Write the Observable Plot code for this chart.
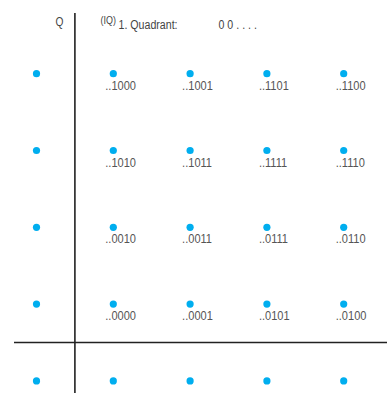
<!DOCTYPE html>
<html>
<head>
<meta charset="utf-8">
<script src="https://cdn.jsdelivr.net/npm/d3@7"></script>
<script src="https://cdn.jsdelivr.net/npm/@observablehq/plot@0.6"></script>
<style>
  html, body { margin: 0; padding: 0; background: #fff; }
  svg { font-family: "Liberation Sans", Arial, sans-serif; }
</style>
</head>
<body>
<div id="chart"></div>
<script>
// Constellation grid levels (I and Q)
const iLevels = [-1, 1, 3, 5, 7];
const qLevels = [-1, 1, 3, 5, 7];

// Bit labels of the first quadrant (rows top to bottom: Q = 7, 5, 3, 1; columns I = 1, 3, 5, 7)
const labelRowQ = [7, 5, 3, 1];
const labelColI = [1, 3, 5, 7];
const bitLabels = [
  ["..1000", "..1001", "..1101", "..1100"],
  ["..1010", "..1011", "..1111", "..1110"],
  ["..0010", "..0011", "..0111", "..0110"],
  ["..0000", "..0001", "..0101", "..0100"]
];

// Header texts
const axisQLabel = "Q";
const headIQ = "(IQ)";
const headQuadrant = "1. Quadrant:";
const headBits = "0 0 . . . .";

const points = [];
for (const q of qLevels) for (const i of iLevels) points.push({i, q});

const labels = [];
labelRowQ.forEach((q, r) => labelColI.forEach((i, c) => labels.push({i, q, label: bitLabels[r][c]})));

const W = 387, H = 393;
const unit = 38.4, x0px = 74.4, y0px = 342;
const xDomain = [-x0px / unit, (W - x0px) / unit];
const yDomain = [-(H - y0px) / unit, y0px / unit];

const chart = Plot.plot({
  width: W,
  height: H,
  margin: 0,
  x: {domain: xDomain, axis: null},
  y: {domain: yDomain, axis: null},
  marks: [
    Plot.ruleX([0], {y1: (y0px - 13) / unit, y2: yDomain[0], stroke: "#222", strokeWidth: 1.6}),
    Plot.ruleY([0], {x1: (14 - x0px) / unit, x2: xDomain[1], stroke: "#222", strokeWidth: 1.6}),
    Plot.dot(points, {x: "i", y: "q", r: 3.6, fill: "#00aeef", stroke: "none"}),
    Plot.text(labels, {x: "i", y: "q", text: "label", textAnchor: "start", dx: -8, dy: 12, fontSize: 13, fill: "#555"}),
    Plot.text([axisQLabel], {frameAnchor: "top-left", dx: 59, dy: 17, text: d => d, textAnchor: "middle", fontSize: 12, fill: "#444"}),
    Plot.text([headIQ], {frameAnchor: "top-left", dx: 100, dy: 16, text: d => d, textAnchor: "start", fontSize: 10.5, fill: "#444"}),
    Plot.text([headQuadrant], {frameAnchor: "top-left", dx: 118, dy: 20, text: d => d, textAnchor: "start", fontSize: 12.5, fill: "#444"}),
    Plot.text([headBits], {frameAnchor: "top-left", dx: 218, dy: 20, text: d => d, textAnchor: "start", fontSize: 12.5, fill: "#444"})
  ]
});
document.getElementById("chart").appendChild(chart);

// Condense glyphs to mimic a narrow typeface
chart.querySelectorAll("text").forEach(t => {
  const len = t.getComputedTextLength();
  if (len > 0) {
    t.setAttribute("textLength", (len * 0.85).toFixed(2));
    t.setAttribute("lengthAdjust", "spacingAndGlyphs");
  }
});
</script>
</body>
</html>
